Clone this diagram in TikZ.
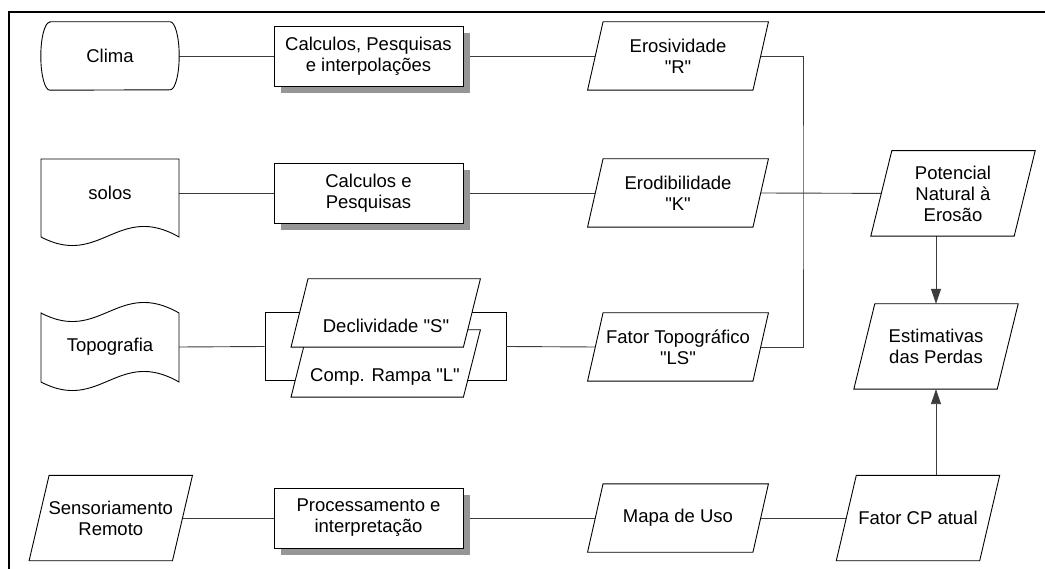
\documentclass[tikz,border=0pt]{standalone}
\usepackage{fontspec}
\setmainfont{Liberation Sans}[Ligatures=TeXOff]
\usetikzlibrary{arrows.meta,shadows}
\pgfdeclarelayer{bg}
\pgfsetlayers{bg,main}
\definecolor{shadowgray}{RGB}{150,150,150}
\definecolor{linegray}{RGB}{60,60,60}
\newcommand\paradraw[3][]{\draw[shp,#1] ([xshift=#3]#2.north west) -- ([xshift=#3]#2.north east) -- ([xshift=-#3]#2.south east) -- ([xshift=-#3]#2.south west) -- cycle;}
\begin{document}
\begin{tikzpicture}[x=1pt,y=-1pt,
  txt/.style={font=\fontsize{18.5}{21}\selectfont, align=center, inner sep=0pt},
  big/.style={txt, minimum width=143pt, minimum height=85pt},
  mid/.style={txt, minimum width=165pt, minimum height=68pt},
  procbox/.style={txt, draw=black, line width=0.9pt, fill=white, minimum width=189pt, minimum height=60pt,
    drop shadow={shadow xshift=7pt, shadow yshift=-7pt, fill=shadowgray, opacity=1, draw=none}},
  conn/.style={draw=linegray, line width=0.9pt},
  arr/.style={-{Triangle[length=15pt,width=10pt]}},
  shp/.style={draw=black, line width=0.9pt}]
\useasboundingbox (0,0) rectangle (1045,569);
\draw[line width=2pt] (1045,12) -- (9,12) -- (9,569);

% row 1
\node[txt, minimum width=138pt, minimum height=68pt] (clima) at (110,56) {Clima};
\node[procbox] (calc1) at (368.5,56) {Calculos, Pesquisas\\e interpolações};
\node[mid] (eros) at (678,56) {Erosividade\\"R"};
% row 2
\node[txt, minimum width=138pt, minimum height=60pt] (solos) at (110,193) {solos};
\node[procbox] (calc2) at (368.5,193) {Calculos e\\Pesquisas};
\node[mid] (erod) at (678,193) {Erodibilidade\\"K"};
\node[big] (pot) at (953,193.4) {Potencial\\Natural à\\Erosão};
% row 3
\node[txt, minimum width=138pt, minimum height=60pt] (topo) at (110,347) {Topografia};
\node[minimum width=172pt, minimum height=68pt, inner sep=0pt] (declS) at (385.7,313) {};
\node[minimum width=172pt, minimum height=67pt, inner sep=0pt] (compS) at (385.7,363.5) {};
\node[txt] (declT) at (386,326) {Declividade "S"};
\node[txt] (compT) at (385,377) {Comp. Rampa "L"};
\node[mid] (ftopo) at (678,347) {Fator Topográfico\\"LS"};
\node[big] (est) at (936,346.5) {Estimativas\\das Perdas};
% row 4
\node[big] (sens) at (110.8,518) {Sensoriamento\\Remoto};
\node[procbox] (proc) at (368.5,518) {Processamento e\\interpretação};
\node[mid] (mapa) at (678,518) {Mapa de Uso};
\node[big] (fcp) at (918,518) {Fator CP atual};

\begin{pgfonlayer}{bg}
  % connectors
  \draw[conn] (clima.east) -- (calc1.west);
  \draw[conn] (calc1.east) -- (eros.west);
  \coordinate (bus) at (803,193);
  \draw[conn] (eros.east) -| (bus) |- (ftopo.east);
  \draw[conn] (solos.east) -- (calc2.west);
  \draw[conn] (calc2.east) -- (erod.west);
  \draw[conn] (erod.east) -- (pot.west);
  \node[shp, minimum width=241pt, minimum height=68.4pt, inner sep=0pt] (bracket) at (385.5,346.5) {};
  \draw[conn] (topo.east) -- (bracket.west);
  \draw[conn] (bracket.east) -- (ftopo.west);
  \draw[conn] (sens.east) -- (proc.west);
  \draw[conn] (proc.east) -- (mapa.west);
  \draw[conn] (mapa.east) -- (fcp.west);
  \draw[conn, arr] (est.north |- pot.south) -- (est.north);
  \draw[conn, arr] (est.south |- fcp.north) -- (est.south);
  % shapes
  \draw[shp] ([xshift=9pt]clima.north west) -- ([xshift=-9pt]clima.north east)
     arc[start angle=90, end angle=-90, x radius=9pt, y radius=34pt]
     -- ([xshift=9pt]clima.south west)
     arc[start angle=270, end angle=90, x radius=9pt, y radius=34pt] -- cycle;
  \draw[shp] (41,237) -- (41,159) -- (179,159) -- (179,237)
     .. controls (118,202) and (100,268) .. (41,237);
  \draw[shp] (41,313) .. controls (100,344) and (118,278) .. (179,313)
     -- (179,382) .. controls (118,347) and (100,413) .. (41,382) -- cycle;
  \paradraw{eros}{7.75pt}
  \paradraw{erod}{7.75pt}
  \paradraw{ftopo}{7.75pt}
  \paradraw{mapa}{7.75pt}
  \paradraw{pot}{10.5pt}
  \paradraw{est}{10.5pt}
  \paradraw{fcp}{10pt}
  \paradraw{sens}{10pt}
  \paradraw[fill=white]{compS}{8.5pt}
  \paradraw[fill=white]{declS}{8.5pt}
\end{pgfonlayer}
\end{tikzpicture}
\end{document}
